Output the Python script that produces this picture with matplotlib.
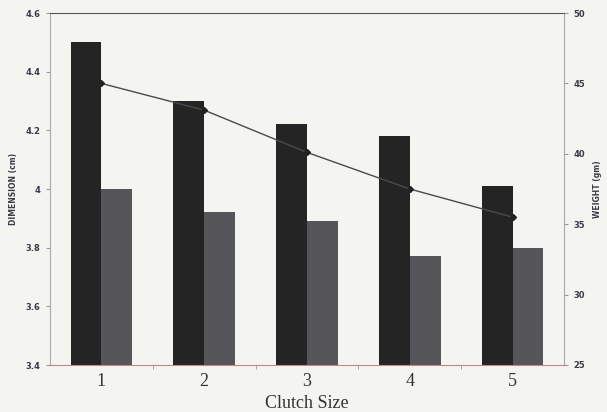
import matplotlib
matplotlib.use("Agg")
import matplotlib.pyplot as plt
import numpy as np

categories = ["1", "2", "3", "4", "5"]
dimension_dark = [4.50, 4.30, 4.22, 4.18, 4.01]
dimension_gray = [4.00, 3.92, 3.89, 3.77, 3.80]
weight = [45.0, 43.1, 40.1, 37.5, 35.5]
left_ticks = [3.4, 3.6, 3.8, 4.0, 4.2, 4.4, 4.6]
left_labels = ["3.4", "3.6", "3.8", "4", "4.2", "4.4", "4.6"]
right_ticks = [25, 30, 35, 40, 45, 50]

bg = "#f4f4f1"
fig = plt.figure(figsize=(6.07, 4.12), dpi=100, facecolor=bg)
ax = fig.add_axes([50/607, 47/412, 514/607, 352/412])
ax.set_facecolor(bg)
x = np.arange(1, len(categories) + 1)
w = 0.30
ax.bar(x - w/2, dimension_dark, width=w, color="#242424", zorder=2)
ax.bar(x + w/2, dimension_gray, width=w, color="#56565a", zorder=2)
ax.set_ylim(3.4, 4.6)
ax.set_xlim(0.5, 5.5)
ax.set_yticks(left_ticks)
ax.set_yticklabels(left_labels, fontsize=6, fontweight="bold", color="#3a3a4a")
ax.set_xticks(x)
ax.set_xticklabels(categories, fontsize=13, family="Liberation Serif", color="#333333")
ax.set_xticks([1.5, 2.5, 3.5, 4.5], minor=True)
ax.tick_params(axis="x", which="major", length=0, pad=6)
ax.tick_params(axis="x", which="minor", length=3, color="#999999")
ax.tick_params(axis="y", length=3, color="#999999", pad=4)
ax.set_xlabel("Clutch Size", fontsize=13, family="Liberation Serif", color="#333333", labelpad=3)
ax.set_ylabel("DIMENSION (cm)", fontsize=5.5, fontweight="bold", color="#3a3a4a")
ax.yaxis.set_label_coords(-0.062, 0.5)
for s in ["left", "right"]:
    ax.spines[s].set_color("#aaaaaa")
ax.spines["bottom"].set_color("#c08888")
ax.spines["top"].set_color("#555555")

ax2 = ax.twinx()
ax2.set_position([50/607, 47/412, 514/607, 352/412])
ax2.plot(x, weight, color="#4a4a4a", lw=1.0, marker="D", markersize=3,
         markerfacecolor="#222222", markeredgecolor="#222222", zorder=3)
ax2.set_ylim(25, 50)
ax2.set_yticks(right_ticks)
ax2.set_yticklabels([str(t) for t in right_ticks], fontsize=6, fontweight="bold", color="#3a3a4a")
ax2.tick_params(axis="y", length=3, color="#999999", pad=4)
ax2.set_ylabel("WEIGHT (gm)", fontsize=5.5, fontweight="bold", color="#3a3a4a")
ax2.yaxis.set_label_coords(1.056, 0.5)
for s in ["left", "right", "bottom", "top"]:
    ax2.spines[s].set_visible(False)

fig.savefig("out.png", dpi=100, facecolor=bg)
